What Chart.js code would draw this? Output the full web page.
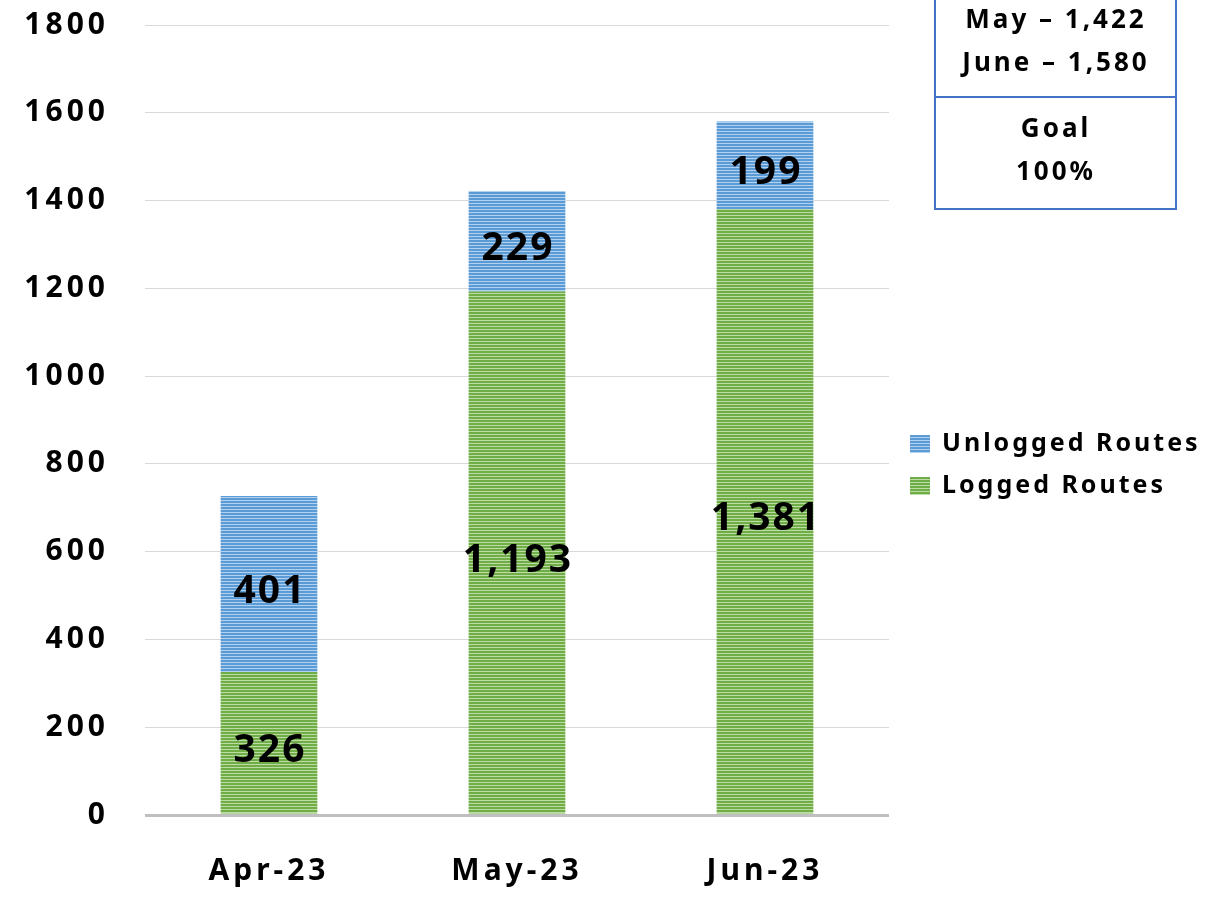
<!DOCTYPE html>
<html>
<head>
<meta charset="utf-8">
<script src="https://cdn.jsdelivr.net/npm/chart.js@4.4.0/dist/chart.umd.min.js"></script>
<style>
  html, body { margin: 0; padding: 0; background: #fff; }
  #wrap { width: 1216px; height: 901px; }
</style>
</head>
<body>
<div id="wrap"><canvas id="routesChart" width="1216" height="901"></canvas></div>
<script>
var months = ['Apr-23', 'May-23', 'Jun-23'];
var loggedRoutes = [326, 1193, 1381];
var unloggedRoutes = [401, 229, 199];
var yTicks = [0, 200, 400, 600, 800, 1000, 1200, 1400, 1600, 1800];
var totalsBox = ['May \u2013 1,422', 'June \u2013 1,580'];
var goalBox = ['Goal', '100%'];

var FONT = '"Noto Sans", sans-serif';

// striped fill like the original (thin light lines over base colour)
function stripes(base, light) {
    var c = document.createElement('canvas');
    c.width = 4; c.height = 3;
    var g = c.getContext('2d');
    g.fillStyle = base; g.fillRect(0, 0, 4, 3);
    g.fillStyle = light; g.fillRect(0, 2, 4, 1);
    return document.getElementById('routesChart').getContext('2d').createPattern(c, 'repeat');
}
var bluePattern = stripes('#5b9bd5', '#b3d1ef');
var greenPattern = stripes('#70ad47', '#bcdca5');

// the original text is spaced out a bit, so widen everything
var spacing = {
    id: 'spacing',
    beforeDraw: function (chart) { chart.ctx.letterSpacing = '4px'; },
    afterDraw: function (chart) { chart.ctx.letterSpacing = '0px'; }
};

var barLabels = {
    id: 'barLabels',
    afterDatasetsDraw: function (chart) {
        var ctx = chart.ctx;
        ctx.save();
        ctx.letterSpacing = '2px';
        ctx.fillStyle = '#000';
        ctx.font = 'bold 39px ' + FONT;
        ctx.textAlign = 'center';
        ctx.textBaseline = 'middle';
        chart.data.datasets.forEach(function (ds, i) {
            chart.getDatasetMeta(i).data.forEach(function (bar, j) {
                var y = (bar.y + bar.base) / 2 + 8;
                ctx.fillText(ds.data[j].toLocaleString('en-US'), bar.x + 1, y);
            });
        });
        ctx.restore();
    }
};

var sideNotes = {
    id: 'sideNotes',
    afterDraw: function (chart) {
        var ctx = chart.ctx;
        ctx.save();
        ctx.letterSpacing = '3px';
        // legend
        var items = [
            { text: 'Unlogged Routes', fill: bluePattern, y: 444 },
            { text: 'Logged Routes', fill: greenPattern, y: 486 }
        ];
        ctx.font = 'bold 25px ' + FONT;
        ctx.textBaseline = 'middle';
        ctx.textAlign = 'left';
        items.forEach(function (it) {
            ctx.fillStyle = it.fill;
            ctx.fillRect(910, it.y - 9, 20, 18);
            ctx.fillStyle = '#000';
            ctx.fillText(it.text, 942, it.y);
        });
        // totals / goal box
        ctx.strokeStyle = '#4472c4';
        ctx.lineWidth = 2;
        ctx.strokeRect(935, -4, 241, 213);
        ctx.beginPath();
        ctx.moveTo(935, 97);
        ctx.lineTo(1176, 97);
        ctx.stroke();
        ctx.fillStyle = '#000';
        ctx.textAlign = 'center';
        ctx.font = 'bold 26px ' + FONT;
        ctx.fillText(totalsBox[0], 1056, 21);
        ctx.fillText(totalsBox[1], 1056, 64);
        ctx.fillText(goalBox[0], 1056, 130);
        ctx.fillText(goalBox[1], 1056, 173);
        ctx.restore();
    }
};

var ctx = document.getElementById('routesChart').getContext('2d');
var routesChart = new Chart(ctx, {
    type: 'bar',
    data: {
        labels: months,
        datasets: [{
            label: 'Logged Routes',
            data: loggedRoutes,
            backgroundColor: greenPattern,
            borderWidth: 0
        }, {
            label: 'Unlogged Routes',
            data: unloggedRoutes,
            backgroundColor: bluePattern,
            borderWidth: 0
        }]
    },
    options: {
        responsive: false,
        animation: false,
        events: [],
        layout: { padding: { top: 25, right: 327, left: 0, bottom: 0 } },
        datasets: { bar: { categoryPercentage: 1, barPercentage: 0.39 } },
        plugins: {
            legend: { display: false },
            tooltip: { enabled: false }
        },
        scales: {
            x: {
                stacked: true,
                grid: { display: false },
                border: { display: false },
                ticks: {
                    color: '#000',
                    padding: 30,
                    font: { family: FONT, size: 30, weight: 'bold' }
                },
                afterFit: function (scale) { scale.height = 86; }
            },
            y: {
                stacked: true,
                min: 0,
                max: 1800,
                afterBuildTicks: function (scale) {
                    scale.ticks = yTicks.map(function (v) { return { value: v }; });
                },
                grid: {
                    // invisible tick marks push the labels left without adding top padding
                    drawTicks: true,
                    tickLength: 36,
                    tickColor: 'rgba(0,0,0,0)',
                    color: function (c) { return c.tick && c.tick.value === 0 ? '#bfbfbf' : '#d9d9d9'; },
                    lineWidth: function (c) { return c.tick && c.tick.value === 0 ? 3 : 1; }
                },
                border: { display: false },
                ticks: {
                    color: '#000',
                    padding: 0,
                    font: { family: FONT, size: 30, weight: 'bold' },
                    callback: function (v) { return String(v); }
                },
                afterFit: function (scale) { scale.width = 145; }
            }
        }
    },
    plugins: [spacing, barLabels, sideNotes]
});
</script>
</body>
</html>
